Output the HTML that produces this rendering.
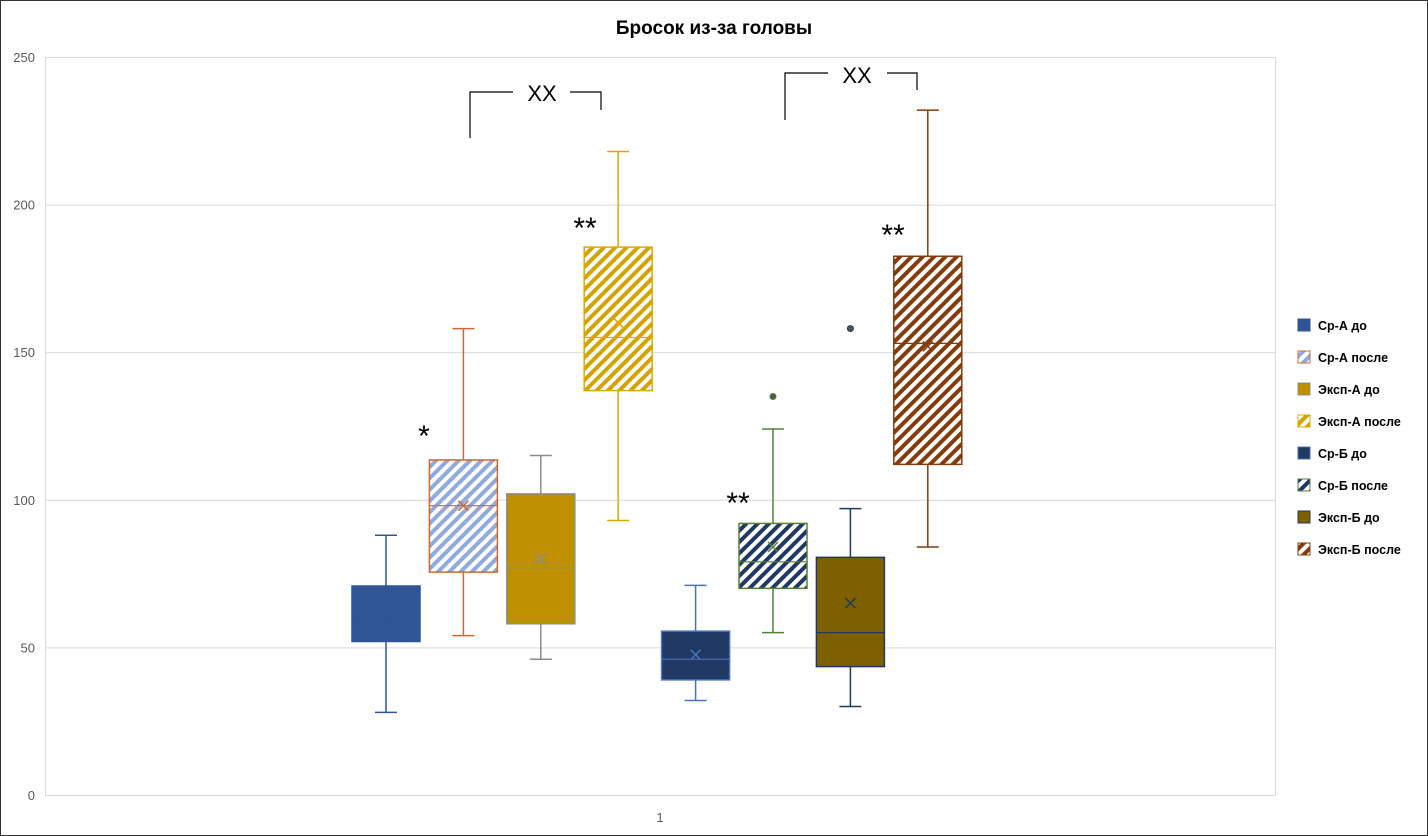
<!DOCTYPE html>
<html><head><meta charset="utf-8"><style>
body{margin:0;background:#fff}
svg{display:block;font-family:"Liberation Sans","Noto Sans CJK SC",sans-serif}
</style></head><body>
<svg id="c" width="1428" height="836">
<defs>
<pattern id="p2" patternUnits="userSpaceOnUse" width="8" height="8" patternTransform="rotate(45)"><rect width="8" height="8" fill="#fff"/><rect width="4" height="8" fill="#8faadc"/></pattern>
<pattern id="p4" patternUnits="userSpaceOnUse" width="8" height="8" patternTransform="rotate(45)"><rect width="8" height="8" fill="#fff"/><rect width="4" height="8" fill="#d4a300"/></pattern>
<pattern id="p6" patternUnits="userSpaceOnUse" width="8" height="8" patternTransform="rotate(45)"><rect width="8" height="8" fill="#fff"/><rect width="4" height="8" fill="#203864"/></pattern>
<pattern id="p8" patternUnits="userSpaceOnUse" width="8" height="8" patternTransform="rotate(45)"><rect width="8" height="8" fill="#fff"/><rect width="4" height="8" fill="#843c0c"/></pattern>
</defs>
<rect x="0.5" y="0.5" width="1427" height="835" fill="#fff" stroke="#333"/>
<text x="714" y="34" text-anchor="middle" font-size="19" font-weight="bold" fill="#000">Бросок из-за головы</text>
<g id="grid"></g>
<rect x="45.5" y="57.5" width="1230" height="738" fill="none" stroke="#d9d9d9"/>
<text x="660" y="822" text-anchor="middle" font-size="13" fill="#595959">1</text>
<g id="boxes"></g>
<g id="legend"></g>
<g stroke="#000" stroke-width="1.2" fill="none">
<polyline points="470,138 470,92 513,92"/><polyline points="570,92 601,92 601,110"/>
<polyline points="785,120 785,73 828,73"/><polyline points="887,73 917,73 917,90"/>
</g>
<g font-size="22" fill="#000" text-anchor="middle">
<text x="542" y="101">XX</text>
<text x="857" y="83">XX</text>
</g>
<g font-size="30" fill="#000" text-anchor="middle">
<text x="424" y="446">*</text>
<text x="585" y="238">**</text>
<text x="738" y="513">**</text>
<text x="893" y="245">**</text>
</g>
</svg>
<script>
const yTicks=[0,50,100,150,200,250];
const seriesNames=["Ср-А до","Ср-А после","Эксп-А до","Эксп-А после","Ср-Б до","Ср-Б после","Эксп-Б до","Эксп-Б после"];
const mins=[28,54,46,93,32,55,30,84];
const q1s=[52,75.5,58,137,39,70,43.5,112];
const medians=[58.5,98,77,155,46,79,55,153];
const q3s=[70.8,113.5,102,185.6,55.5,92,80.5,182.5];
const maxs=[88,158,115,218,71,124,97,232];
const means=[60,98,80,160,47.5,84,65,152];
const outliers=[[],[],[],[],[],[135],[158],[]];
const fills=["#2f5597","url(#p2)","#bf9000","url(#p4)","#203864","url(#p6)","#7f6000","url(#p8)"];
const legendFills=["#2f5597","#8faadc","#bf9000","#d4a300","#203864","#203864","#7f6000","#843c0c"];
const strokes=["#2f5597","#d0692e","#8c8c8c","#e0a800","#4a72b8","#548235","#203864","#843c0c"];
const NS="http://www.w3.org/2000/svg";
const y=v=>795-v*738/250;
const cx=i=>386+i*77.4;
function mk(t,a,p){const e=document.createElementNS(NS,t);for(const k in a)e.setAttribute(k,a[k]);p.appendChild(e);return e;}
const g=document.getElementById('grid');
yTicks.forEach(t=>{
 const l=mk('line',{x1:45,x2:1276,y1:y(t)+0.5,y2:y(t)+0.5,stroke:'#d9d9d9'},g);
 
 
 const tx=mk('text',{x:35,y:y(t)+5,'text-anchor':'end','font-size':13,fill:'#595959'},g);
 tx.textContent=t;
 
 
});
const bg=document.getElementById('boxes');
seriesNames.forEach((n,i)=>{
 const c=cx(i),w=68,s=strokes[i];
 const grp=mk('g',{},bg);
 
 
 mk('line',{x1:c,x2:c,y1:y(maxs[i]),y2:y(q3s[i]),stroke:s,'stroke-width':1.5},grp);
 mk('line',{x1:c,x2:c,y1:y(q1s[i]),y2:y(mins[i]),stroke:s,'stroke-width':1.5},grp);
 mk('line',{x1:c-11,x2:c+11,y1:y(maxs[i]),y2:y(maxs[i]),stroke:s,'stroke-width':1.5},grp);
 mk('line',{x1:c-11,x2:c+11,y1:y(mins[i]),y2:y(mins[i]),stroke:s,'stroke-width':1.5},grp);
 mk('rect',{x:c-w/2,y:y(q3s[i]),width:w,height:y(q1s[i])-y(q3s[i]),fill:fills[i],stroke:s,'stroke-width':1.5},grp);
 mk('line',{x1:c-w/2,x2:c+w/2,y1:y(medians[i]),y2:y(medians[i]),stroke:s,'stroke-width':1.2},grp);
 const m=y(means[i]);
 mk('path',{d:`M${c-5},${m-5}L${c+5},${m+5}M${c+5},${m-5}L${c-5},${m+5}`,stroke:s,'stroke-width':1.5},grp);
 outliers[i].forEach(o=>mk('circle',{cx:c,cy:y(o),r:3,fill:'#555',stroke:s,'stroke-width':1},grp));
 const ly=325+i*32;
 const lg=mk('g',{},document.getElementById('legend'));
 
 
 mk('rect',{x:1298,y:ly-6,width:12,height:12,fill:i%2?'url(#p'+(i+1)+')':fills[i],stroke:s,'stroke-width':1},lg);
 const t=mk('text',{x:1318,y:ly+5,'font-size':12.5,'font-weight':'bold',fill:'#000'},lg);
 t.textContent=n;
});
</script>
</body></html>
